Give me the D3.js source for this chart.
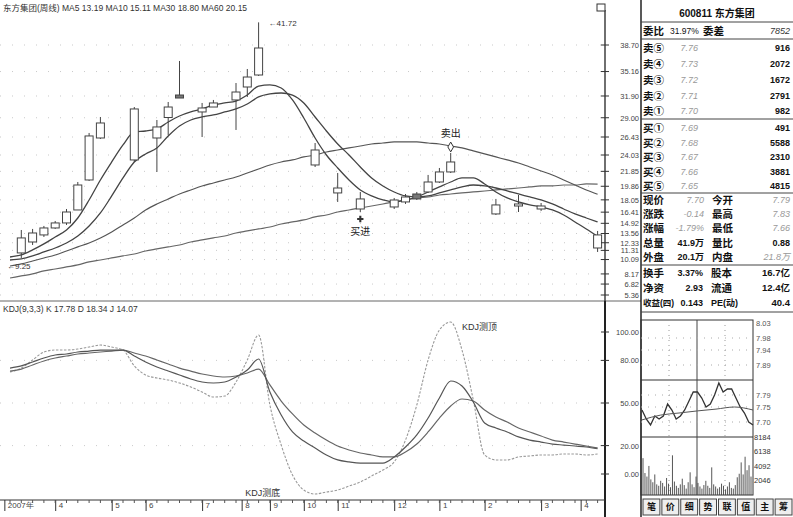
<!DOCTYPE html>
<html><head><meta charset="utf-8">
<script src="https://cdn.jsdelivr.net/npm/d3@7"></script>
<style>
body{margin:0;background:#fff;}
svg{display:block;font-family:"Liberation Sans","Noto Sans CJK SC",sans-serif;}
</style></head><body>
<svg id="c" width="793" height="517"></svg>
<script>
// ---------------- DATA ----------------
const chartTitle = "东方集团(周线)";
const maNames = ["MA5","MA10","MA30","MA60"];
const maLast = ["13.19","15.11","18.80","20.15"];

// weekly candles (week index, open, high, low, close)
const candleIdx   = [1,2,3,4,5,6,7,8,11,13,14,15,17,18,20,21,22,27,29,31,34,35,36,37,38,39,43,45,47,52];
const candleOpen  = [10.97,12.43,13.37,14.30,14.97,16.70,20.70,26.30,23.37,26.30,29.03,32.03,29.77,30.43,31.37,33.10,34.70,22.70,18.97,16.83,17.10,17.77,18.83,19.10,20.43,21.77,16.17,17.23,16.83,11.63];
const candleHigh  = [14.03,14.17,14.57,15.23,16.83,20.43,26.97,29.10,30.43,28.70,31.10,36.57,30.97,31.37,33.63,35.50,41.72,25.63,21.63,19.10,18.30,18.83,19.10,21.37,22.30,24.30,18.17,18.70,17.63,13.90];
const candleLow   = [10.30,12.03,13.10,14.17,14.70,16.70,20.57,26.17,23.10,21.77,26.70,31.63,26.43,30.43,27.37,31.77,34.57,22.43,17.77,16.43,16.83,17.50,18.03,18.97,20.30,21.63,16.03,16.43,16.57,11.10];
const candleClose = [12.97,13.63,14.30,14.97,16.43,20.03,26.57,28.30,30.17,27.77,30.43,31.63,30.30,30.97,32.43,34.43,38.30,24.70,19.63,18.17,18.03,18.43,18.17,20.43,21.77,23.10,17.37,17.50,17.23,13.37];

// moving averages, one value per week index 0..52
const ma5  = [10.43,10.70,11.37,12.17,13.10,14.03,15.63,18.03,20.70,23.10,25.37,27.10,27.23,27.50,28.43,29.23,29.77,30.17,30.70,30.97,31.23,32.03,33.23,33.37,32.97,31.37,28.97,26.30,24.03,22.30,20.70,19.37,18.57,18.03,17.77,18.03,18.43,19.10,19.77,20.43,20.97,20.97,20.17,19.10,18.30,17.77,17.37,17.10,16.70,16.03,15.10,14.17,13.19];
const ma10 = [10.03,10.17,10.57,11.10,11.63,12.30,13.23,14.57,16.30,18.57,20.97,23.10,24.17,24.97,26.57,27.90,28.70,29.10,29.37,29.77,30.17,30.83,31.77,32.17,32.30,32.03,30.97,29.10,27.23,25.50,24.03,22.43,20.97,19.90,19.10,18.57,18.43,18.57,18.97,19.37,19.77,20.03,19.90,19.63,19.23,18.83,18.43,18.03,17.50,16.83,16.17,15.63,15.11];
const ma30 = [9.23,9.50,9.90,10.30,10.70,11.23,11.77,12.30,12.97,13.77,14.70,15.63,16.70,17.50,18.17,18.83,19.37,19.90,20.30,20.70,21.10,21.63,22.17,22.70,23.10,23.37,23.77,24.03,24.43,24.70,24.97,25.23,25.50,25.63,25.77,25.77,25.77,25.63,25.50,25.23,24.97,24.57,24.17,23.77,23.37,22.97,22.43,21.90,21.37,20.70,20.03,19.37,18.80];
const ma60 = [7.63,7.90,8.17,8.57,8.83,9.10,9.37,9.77,10.03,10.30,10.57,10.83,11.23,11.50,11.77,12.03,12.43,12.70,12.97,13.23,13.63,13.90,14.17,14.43,14.83,15.10,15.37,15.77,16.03,16.43,16.70,16.97,17.23,17.50,17.77,18.03,18.30,18.43,18.70,18.83,18.97,19.10,19.23,19.37,19.50,19.63,19.77,19.90,19.90,20.03,20.03,20.17,20.15];

// KDJ(9,3,3), one value per week index 0..52
const kdjK = [74.6,76.1,78.9,81.7,83.8,84.5,85.9,86.6,87.3,87.3,87.3,83.1,78.9,75.4,72.5,69.7,66.9,64.8,64.1,64.8,68.3,73.2,81.0,57.7,41.5,29.6,23.2,18.3,13.4,9.9,8.5,7.7,7.7,7.7,12.0,19.0,27.5,39.4,53.5,65.5,62.0,50.7,35.9,32.4,29.6,26.1,23.9,22.5,21.1,20.4,19.7,19.0,17.78];
const kdjD = [72.5,73.9,76.8,79.6,81.7,83.1,84.5,85.2,85.9,86.6,87.3,85.2,83.1,80.3,77.5,74.6,72.5,70.4,69.0,68.3,69.0,71.1,73.9,62.7,51.4,42.3,34.5,28.9,23.9,19.7,16.9,14.8,13.4,12.0,12.0,15.5,21.1,29.6,39.4,47.9,52.8,51.4,45.1,40.1,36.6,32.4,29.6,26.8,23.9,22.5,21.1,19.7,18.34];
const kdjJ = [71.8,74.6,80.3,85.9,87.3,87.3,88.0,89.4,90.8,89.4,87.3,76.1,69.7,67.6,66.2,64.1,61.3,57.7,54.2,54.9,64.8,80.3,97.9,48.6,20.4,-0.7,-11.3,-14.1,-12.7,-11.3,-8.5,-5.6,-1.4,2.8,8.5,23.9,48.6,80.3,101.4,107.0,87.3,52.1,13.4,9.9,9.9,12.0,12.7,13.4,13.4,14.1,14.1,13.4,14.07];
const kdjTitle = "KDJ(9,3,3) K 17.78 D 18.34 J 14.07";

// axis ticks
const priceTicks = [38.70,35.16,31.90,29.00,26.43,24.03,21.85,19.86,18.05,16.41,14.92,13.56,12.33,11.31,10.09,8.17,6.82,5.36];
const kdjTicks = [100,80,50,20,0];
const monthTickIdx = [-0.5,4,9,12,17,20.5,23,26,29,34,38,42,47,50.5];
const monthLabels = ["2007年","4","5","6","7","8","9","10","11","12","1","2","3","4"];

// annotations
const lowValue = 9.25, lowIdx = 0;
const highValue = 41.72, highIdx = 22;
const buyIdx = 31, buyText = "买进";
const sellIdx = 39, sellText = "卖出";
const kdjTopText = "KDJ测顶", kdjTopIdx = 40;
const kdjBottomText = "KDJ测底", kdjBottomIdx = 21;

// quote panel
const quoteHeader = "600811 东方集团";
const orderRatio = ["委比","31.97%","委差","7852"];
const sellLabels = ["卖⑤","卖④","卖③","卖②","卖①"];
const sellPrices = ["7.76","7.73","7.72","7.71","7.70"];
const sellVols = ["916","2072","1672","2791","982"];
const buyLabels = ["买①","买②","买③","买④","买⑤"];
const buyPrices = ["7.69","7.68","7.67","7.66","7.65"];
const buyVols = ["491","5588","2310","3881","4815"];
const statRows = [["现价","7.70","今开","7.79"],["涨跌","-0.14","最高","7.83"],["涨幅","-1.79%","最低","7.66"],["总量","41.9万","量比","0.88"],["外盘","20.1万","内盘","21.8万"]];
const statBold = [[false,false],[false,false],[false,false],[true,true],[true,false]];
const finRows = [["换手","3.37%","股本","16.7亿"],["净资","2.93","流通","12.4亿"],["收益(四)","0.143","PE(动)","40.4"]];

// intraday mini chart
const prevClose = 7.84;
const miniPriceTicks = [8.03,7.98,7.94,7.89,7.79,7.75,7.70];
const miniVolTicks = [8184,6138,4092,2046];
const intradayPrice = [7.74,7.71,7.69,7.72,7.71,7.72,7.76,7.74,7.71,7.72,7.74,7.77,7.80,7.80,7.78,7.75,7.76,7.79,7.83,7.80,7.81,7.81,7.78,7.75,7.73,7.70,7.69];
const intradayAvg = [7.707,7.723,7.730,7.737,7.743,7.750,7.740];
const intradayVol = [5200,3100,2600,4100,2200,1800,2900,1500,1300,2000,1700,1200,2400,1600,1100,5600,1900,1300,1000,1500,2300,1400,900,1800,3200,1500,1100,2600,1700,1200,900,1400,2000,1300,1000,3900,1500,1200,900,1100,1600,1300,800,1200,1800,1000,900,1400,2500,3000,4600,2900,5400,3500,4200,2600];
const tabLabels = ["笔","价","细","势","联","值","主","筹"];

// ---------------- DRAW ----------------
const svg = d3.select("#c");
const x = d3.scaleLinear().domain([0,52]).range([10,597.6]);
const yP = d3.scaleLinear().domain([5.36,38.70]).range([295,45]);
const yK = d3.scaleLinear().domain([0,100]).range([474,332]);
const AX = 605, TY = 500;

// faint dotted grid
svg.append("g").selectAll("line").data(priceTicks).join("line")
  .attr("x1",0).attr("x2",AX).attr("y1",d=>yP(d)).attr("y2",d=>yP(d))
  .attr("stroke","#bbb").attr("stroke-width",0.8).attr("stroke-dasharray","1,11");
svg.append("g").selectAll("line").data([80,50,20]).join("line")
  .attr("x1",0).attr("x2",AX).attr("y1",d=>yK(d)).attr("y2",d=>yK(d))
  .attr("stroke","#bbb").attr("stroke-width",0.8).attr("stroke-dasharray","1,11");

// title
svg.append("text").attr("x",3).attr("y",11).attr("font-size",8.5).attr("fill","#333")
  .text(chartTitle + " " + maNames.map((n,i)=>n+" "+maLast[i]).join("  "));

// MA lines
const maLine = d3.line().x((d,i)=>x(i)).y(d=>yP(d)).curve(d3.curveMonotoneX);
[[ma60,"#666",1.2],[ma30,"#555",1.2],[ma10,"#444",1.3],[ma5,"#444",1.3]].forEach(([arr,c,w])=>{
  svg.append("path").attr("d",maLine(arr)).attr("fill","none").attr("stroke",c).attr("stroke-width",w);
});

// candles
const candles = candleIdx.map((i,k)=>({i,o:candleOpen[k],h:candleHigh[k],l:candleLow[k],c:candleClose[k]}));
const cg = svg.append("g");
const bw = 8;
cg.selectAll("line").data(candles).join("line")
  .attr("x1",d=>x(d.i)).attr("x2",d=>x(d.i)).attr("y1",d=>yP(d.h)).attr("y2",d=>yP(d.l))
  .attr("stroke","#444").attr("stroke-width",1);
cg.selectAll("rect").data(candles).join("rect")
  .attr("x",d=>x(d.i)-bw/2).attr("width",bw)
  .attr("y",d=>yP(Math.max(d.o,d.c))).attr("height",d=>Math.max(2,Math.abs(yP(d.o)-yP(d.c))))
  .attr("fill",d=>d.c<d.o?"#777":"#fff").attr("stroke","#444").attr("stroke-width",1);

// high / low annotations
svg.append("text").attr("x",x(lowIdx)-3).attr("y",yP(lowValue)+3).attr("font-size",8).attr("fill","#333").text("←"+lowValue.toFixed(2));
svg.append("text").attr("x",x(highIdx)+10).attr("y",yP(highValue)+4).attr("font-size",8).attr("fill","#333").text("←"+highValue.toFixed(2));

// buy / sell markers
const buyC = candles.find(d=>d.i===buyIdx), sellC = candles.find(d=>d.i===sellIdx);
svg.append("path").attr("d",d3.symbol(d3.symbolCross,22)())
  .attr("transform",`translate(${x(buyIdx)},${yP(buyC.l)+7})`).attr("fill","#333");
svg.append("text").attr("x",x(buyIdx)).attr("y",yP(buyC.l)+23).attr("text-anchor","middle").attr("font-size",10).attr("fill","#222").text(buyText);
svg.append("path").attr("d",d3.symbol(d3.symbolDiamond,28)())
  .attr("transform",`translate(${x(sellIdx)},${yP(sellC.h)-6})`).attr("fill","#fff").attr("stroke","#333");
svg.append("text").attr("x",x(sellIdx)).attr("y",yP(sellC.h)-16).attr("text-anchor","middle").attr("font-size",10).attr("fill","#222").text(sellText);

// pane separator
svg.append("line").attr("x1",0).attr("x2",641).attr("y1",301).attr("y2",301).attr("stroke","#666").attr("stroke-width",1);

// KDJ
svg.append("text").attr("x",3).attr("y",312).attr("font-size",8.5).attr("fill","#333").text(kdjTitle);
const kLine = d3.line().x((d,i)=>x(i)).y(d=>yK(d)).curve(d3.curveMonotoneX);
svg.append("path").attr("d",kLine(kdjJ)).attr("fill","none").attr("stroke","#999").attr("stroke-width",1.1).attr("stroke-dasharray","2.5,1.5");
svg.append("path").attr("d",kLine(kdjD)).attr("fill","none").attr("stroke","#666").attr("stroke-width",1.2);
svg.append("path").attr("d",kLine(kdjK)).attr("fill","none").attr("stroke","#555").attr("stroke-width",1.2);
svg.append("text").attr("x",x(kdjTopIdx)).attr("y",yK(kdjJ[kdjTopIdx])-20).attr("font-size",9).attr("fill","#333").text(kdjTopText);
svg.append("text").attr("x",x(kdjBottomIdx)-2).attr("y",TY-4).attr("font-size",9).attr("fill","#333").text(kdjBottomText);

// right axes
svg.append("line").attr("x1",AX).attr("x2",AX).attr("y1",10).attr("y2",517).attr("stroke","#222").attr("stroke-width",1.3);
svg.append("line").attr("x1",AX).attr("x2",AX).attr("y1",301).attr("y2",517).attr("stroke","#222").attr("stroke-width",2);
svg.append("rect").attr("x",AX-8).attr("y",4).attr("width",8).attr("height",7).attr("fill","#fff").attr("stroke","#333");
const pAx = svg.append("g").attr("transform",`translate(641,0)`)
  .call(d3.axisLeft(yP).tickValues(priceTicks).tickFormat(d3.format(".2f")).tickSize(0).tickPadding(2));
pAx.select(".domain").remove();
pAx.selectAll("text").attr("font-size",7.5).attr("fill","#444").attr("font-family","Liberation Sans");
svg.append("g").selectAll("line").data(priceTicks).join("line")
  .attr("x1",AX-4).attr("x2",AX+4).attr("y1",d=>yP(d)).attr("y2",d=>yP(d)).attr("stroke","#333");
const kAx = svg.append("g").attr("transform",`translate(641,0)`)
  .call(d3.axisLeft(yK).tickValues(kdjTicks).tickFormat(d3.format(".2f")).tickSize(0).tickPadding(2));
kAx.select(".domain").remove();
kAx.selectAll("text").attr("font-size",7.5).attr("fill","#444").attr("font-family","Liberation Sans");
svg.append("g").selectAll("line").data(kdjTicks).join("line")
  .attr("x1",AX-4).attr("x2",AX+4).attr("y1",d=>yK(d)).attr("y2",d=>yK(d)).attr("stroke","#333");

// bottom time axis
const tAx = svg.append("g").attr("transform",`translate(0,${TY})`)
  .call(d3.axisBottom(x).tickValues(monthTickIdx).tickFormat((d,i)=>monthLabels[i]).tickSize(11));
tAx.select(".domain").attr("d","M0,0H"+AX).attr("stroke","#333");
tAx.selectAll(".tick line").attr("stroke","#333");
tAx.selectAll("text").attr("text-anchor","start").attr("x",3).attr("y",2).attr("dy","0.75em").attr("font-size",8).attr("fill","#444");
svg.append("g").selectAll("line").data(d3.range(0,53)).join("line")
  .attr("x1",d=>x(d)).attr("x2",d=>x(d)).attr("y1",TY).attr("y2",TY+3).attr("stroke","#555");

// ---------- quote panel ----------
const P = svg.append("g");
const LX = 641;
P.append("line").attr("x1",LX).attr("x2",LX).attr("y1",0).attr("y2",517).attr("stroke","#222").attr("stroke-width",1.5);
const hline = y => P.append("line").attr("x1",LX).attr("x2",793).attr("y1",y).attr("y2",y).attr("stroke","#444").attr("stroke-width",1);
[22,39,119,193,265,312].forEach(hline);
const txt = (xx,yy,s,opt={}) => P.append("text").attr("x",xx).attr("y",yy).attr("dy","0.35em")
  .attr("text-anchor",opt.anchor||"start").attr("font-size",opt.size||10)
  .attr("font-weight",opt.bold?"bold":"normal").attr("font-style",opt.italic?"italic":"normal")
  .attr("fill",opt.color||"#111").text(s);
txt(717,13,quoteHeader,{anchor:"middle",bold:true,size:10});
txt(643,31,orderRatio[0],{bold:true,size:10.5});
txt(670,31,orderRatio[1],{size:8.5});
txt(703,31,orderRatio[2],{bold:true,size:10.5});
txt(790,31,orderRatio[3],{anchor:"end",size:9,italic:true,color:"#333"});
const sellY = [48,64,80,96,111], buyY = [128,143,157,172,186];
sellLabels.forEach((s,i)=>{
  txt(643,sellY[i],s,{bold:true,size:10.5});
  txt(698,sellY[i],sellPrices[i],{anchor:"end",italic:true,color:"#999",size:9});
  txt(790,sellY[i],sellVols[i],{anchor:"end",bold:true,size:9});
});
buyLabels.forEach((s,i)=>{
  txt(643,buyY[i],s,{bold:true,size:10.5});
  txt(698,buyY[i],buyPrices[i],{anchor:"end",italic:true,color:"#999",size:9});
  txt(790,buyY[i],buyVols[i],{anchor:"end",bold:true,size:9});
});
const statY = [200,214,228,243,257];
statRows.forEach((r,i)=>{
  txt(643,statY[i],r[0],{bold:true,size:10.5});
  txt(704,statY[i],r[1],statBold[i][0]?{anchor:"end",bold:true,size:9}:{anchor:"end",italic:true,color:"#999",size:9});
  txt(712,statY[i],r[2],{bold:true,size:10.5});
  txt(790,statY[i],r[3],statBold[i][1]?{anchor:"end",bold:true,size:9}:{anchor:"end",italic:true,color:"#999",size:9});
});
const finY = [273,288,303];
finRows.forEach((r,i)=>{
  txt(643,finY[i],r[0],{bold:true,size:i===2?8.5:10.5});
  txt(703,finY[i],r[1],{anchor:"end",bold:true,size:9});
  txt(711,finY[i],r[2],{bold:true,size:i===2?9:10.5});
  txt(790,finY[i],r[3],{anchor:"end",bold:true,size:9.5});
});

// ---------- intraday mini chart ----------
const M = svg.append("g");
const mx0 = 641, mx1 = 753;
const miniY = d3.scaleLinear().domain([7.70,8.03]).range([422,323]);
const volY = d3.scaleLinear().domain([0,8184]).range([495,437]);
M.append("rect").attr("x",mx0).attr("y",320).attr("width",mx1-mx0).attr("height",175).attr("fill","none").attr("stroke","#333");
[miniY(prevClose),437].forEach(yy=>M.append("line").attr("x1",mx0).attr("x2",mx1).attr("y1",yy).attr("y2",yy).attr("stroke","#333"));
M.append("line").attr("x1",(mx0+mx1)/2).attr("x2",(mx0+mx1)/2).attr("y1",320).attr("y2",495).attr("stroke","#444");
[(mx0*3+mx1)/4,(mx0+mx1*3)/4].forEach(xx=>M.append("line").attr("x1",xx).attr("x2",xx).attr("y1",320).attr("y2",495).attr("stroke","#999").attr("stroke-dasharray","1,4"));
M.selectAll(".pg").data(miniPriceTicks.slice(1)).join("line").attr("x1",mx0).attr("x2",mx1)
  .attr("y1",d=>miniY(d)).attr("y2",d=>miniY(d)).attr("stroke","#aaa").attr("stroke-dasharray","1,6");
M.selectAll(".pt").data(miniPriceTicks).join("text").attr("x",mx1+3).attr("y",d=>miniY(d)).attr("dy","0.35em")
  .attr("font-size",7.5).attr("fill","#555").text(d=>d.toFixed(2));
M.selectAll(".vt").data(miniVolTicks).join("text").attr("x",mx1+1).attr("y",d=>volY(d)).attr("dy","0.35em")
  .attr("font-size",7.5).attr("fill","#333").text(d=>d);
const vx = d3.scaleLinear().domain([0,intradayVol.length-1]).range([mx0+2,mx1-2]);
M.selectAll(".vb").data(intradayVol).join("line").attr("x1",(d,i)=>vx(i)).attr("x2",(d,i)=>vx(i))
  .attr("y1",495).attr("y2",d=>volY(d)).attr("stroke","#444").attr("stroke-width",0.9);
const px = d3.scaleLinear().domain([0,intradayPrice.length-1]).range([mx0+1,mx1]);
M.append("path").attr("d",d3.line().x((d,i)=>px(i)).y(d=>miniY(d))(intradayPrice)).attr("fill","none").attr("stroke","#333").attr("stroke-width",1.3);
const ax2 = d3.scaleLinear().domain([0,intradayAvg.length-1]).range([mx0+1,mx1]);
M.append("path").attr("d",d3.line().x((d,i)=>ax2(i)).y(d=>miniY(d)).curve(d3.curveMonotoneX)(intradayAvg)).attr("fill","none").attr("stroke","#555").attr("stroke-width",1);

// tabs
const tabW = (793-642)/tabLabels.length;
tabLabels.forEach((t,i)=>{
  const tx = 642 + i*tabW;
  M.append("rect").attr("x",tx+1).attr("y",499).attr("width",tabW-2).attr("height",16).attr("fill","#eee").attr("stroke","#444");
  M.append("text").attr("x",tx+tabW/2).attr("y",507).attr("dy","0.35em").attr("text-anchor","middle").attr("font-size",9).attr("font-weight","bold").attr("fill","#111").text(t);
});
</script>
</body></html>
